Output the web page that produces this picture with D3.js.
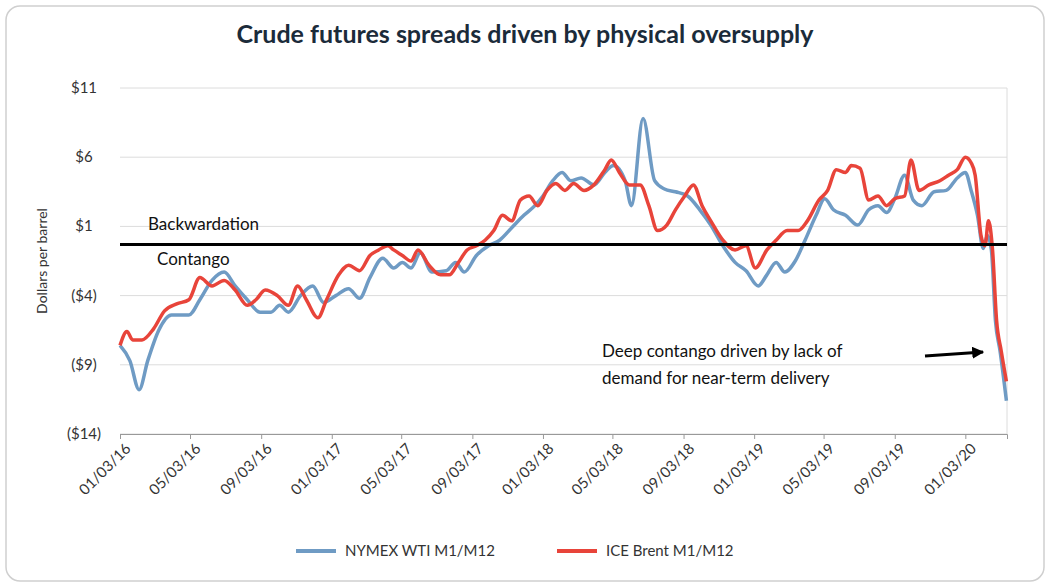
<!DOCTYPE html><html><head><meta charset="utf-8"><script src="https://cdn.jsdelivr.net/npm/d3@7"></script>
<style>body{margin:0;background:#fff;font-family:Lato,"Open Sans",sans-serif}</style></head><body><svg id="c" width="1050" height="587"></svg>
<script>
const title="Crude futures spreads driven by physical oversupply";
const yTicks=[11,6,1,-4,-9,-14];
const xTickDates=["2016-01-03","2016-05-03","2016-09-03","2017-01-03","2017-05-03","2017-09-03","2018-01-03","2018-05-03","2018-09-03","2019-01-03","2019-05-03","2019-09-03","2020-01-03"];
const wtiDates=["2016-01-03","2016-01-20","2016-02-05","2016-02-20","2016-03-10","2016-04-01","2016-05-01","2016-05-20","2016-06-10","2016-07-01","2016-07-20","2016-08-10","2016-09-01","2016-09-20","2016-10-05","2016-10-20","2016-11-10","2016-12-01","2016-12-20","2017-01-10","2017-02-01","2017-02-20","2017-03-10","2017-04-01","2017-04-20","2017-05-05","2017-05-20","2017-06-05","2017-06-25","2017-07-20","2017-08-05","2017-08-20","2017-09-10","2017-10-01","2017-10-20","2017-11-10","2017-12-01","2017-12-20","2018-01-03","2018-01-20","2018-02-05","2018-02-20","2018-03-10","2018-04-01","2018-04-20","2018-05-05","2018-05-25","2018-06-05","2018-06-25","2018-07-15","2018-08-01","2018-08-20","2018-09-10","2018-10-01","2018-10-20","2018-11-10","2018-12-01","2018-12-20","2019-01-10","2019-01-25","2019-02-10","2019-02-25","2019-03-15","2019-04-01","2019-04-20","2019-05-05","2019-05-20","2019-06-10","2019-07-01","2019-07-20","2019-08-05","2019-08-20","2019-09-03","2019-09-20","2019-10-05","2019-10-20","2019-11-10","2019-12-01","2019-12-20","2020-01-03","2020-01-13","2020-01-24","2020-02-03","2020-02-10","2020-02-17","2020-02-24","2020-03-03","2020-03-14"];
const wtiValues=[-7.6,-8.7,-10.8,-8.7,-6.5,-5.4,-5.4,-4.3,-2.9,-2.3,-3.3,-4.3,-5.2,-5.2,-4.7,-5.2,-4,-3.3,-4.5,-4.0,-3.5,-4.2,-2.7,-1.3,-2,-1.6,-2,-0.9,-2.3,-2.2,-1.6,-2.3,-1.1,-0.4,0,0.9,1.8,2.5,3.2,4.3,4.9,4.3,4.5,4.0,4.9,5.4,4.3,2.5,8.8,4.3,3.7,3.5,3.2,2.2,1.1,-0.4,-1.6,-2.2,-3.3,-2.5,-1.6,-2.3,-1.5,0,1.8,3,2.2,1.8,1.1,2.2,2.5,2,3,4.7,2.9,2.5,3.5,3.6,4.5,4.9,3.6,1.8,-0.6,0.35,-0.7,-5.8,-8,-11.6];
const brentDates=["2016-01-03","2016-01-15","2016-01-25","2016-02-10","2016-03-01","2016-03-20","2016-04-10","2016-05-01","2016-05-20","2016-06-10","2016-07-01","2016-07-20","2016-08-10","2016-08-25","2016-09-10","2016-10-01","2016-10-20","2016-11-05","2016-11-20","2016-12-10","2016-12-25","2017-01-15","2017-02-01","2017-02-20","2017-03-10","2017-03-25","2017-04-10","2017-04-20","2017-05-05","2017-05-20","2017-06-01","2017-06-20","2017-07-10","2017-07-25","2017-08-10","2017-08-25","2017-09-10","2017-09-25","2017-10-10","2017-10-25","2017-11-10","2017-11-25","2017-12-10","2017-12-25","2018-01-10","2018-01-25","2018-02-10","2018-02-25","2018-03-15","2018-04-01","2018-04-20","2018-05-01","2018-05-15","2018-06-01","2018-06-20","2018-07-05","2018-07-20","2018-08-05","2018-08-20","2018-09-05","2018-09-20","2018-10-05","2018-10-20","2018-11-10","2018-12-01","2018-12-20","2019-01-05","2019-01-25","2019-02-10","2019-03-01","2019-03-20","2019-04-05","2019-04-25","2019-05-10","2019-05-25","2019-06-10","2019-06-20","2019-07-05","2019-07-20","2019-08-05","2019-08-20","2019-09-03","2019-09-20","2019-10-01","2019-10-15","2019-11-01","2019-11-20","2019-12-05","2019-12-20","2020-01-03","2020-01-13","2020-01-20","2020-01-30","2020-02-06","2020-02-12","2020-02-19","2020-02-26","2020-03-05","2020-03-14"];
const brentValues=[-7.6,-6.6,-7.2,-7.2,-6.4,-5.1,-4.6,-4.3,-2.7,-3.3,-2.9,-3.6,-4.7,-4.3,-3.6,-4,-4.7,-3.3,-4.3,-5.6,-4.3,-2.5,-1.8,-2.2,-1.1,-0.7,-0.4,-0.7,-1.1,-1.5,-0.7,-1.8,-2.5,-2.5,-1.6,-0.7,-0.4,0,0.7,1.8,1.4,2.9,3.2,2.5,3.6,4.1,3.6,4.1,3.6,4.0,5.1,5.8,4.9,4.0,4.0,2.5,0.7,1.1,2.2,3.2,4.0,2.5,1.4,0,-0.7,-0.4,-2,-0.7,0,0.7,0.7,1.4,2.9,3.6,5.1,4.9,5.4,5.2,2.9,3.2,2.5,3.0,3.2,5.8,3.6,4.0,4.3,4.7,5.1,6.0,5.6,4.7,0.35,-0.4,1.4,-0.7,-5.8,-8,-10.2];
const seriesNames=["NYMEX WTI M1/M12","ICE Brent M1/M12"];
const colors=["#6f9bc4","#e8443a"];

const p=d3.timeParse("%Y-%m-%d"), fmt=d3.timeFormat("%m/%d/%y");
const svg=d3.select("#c");
svg.append("rect").attr("x",6).attr("y",6).attr("width",1038).attr("height",575).attr("rx",14).attr("fill","#fff").attr("stroke","#cfcfcf").attr("stroke-width",1.5);
svg.append("text").attr("x",525).attr("y",43).attr("text-anchor","middle").attr("font-size",25).attr("font-weight",700).attr("fill","#1b2b3a").text(title);
const x=d3.scaleTime().domain([p("2016-01-03"),p("2020-03-15")]).range([120,1007]);
const y=d3.scaleLinear().domain([-14,11]).range([434,88]);
const g=svg.append("g");
g.selectAll(".gl").data(yTicks).join("line").attr("x1",120).attr("x2",1007).attr("y1",d=>y(d)).attr("y2",d=>y(d)).attr("stroke","#dcdcdc");
g.append("line").attr("x1",1007).attr("x2",1007).attr("y1",88).attr("y2",434).attr("stroke","#dcdcdc");
const yl=d=>d<0?"($"+(-d)+")":"$"+d;
g.selectAll(".yt").data(yTicks).join("text").attr("x",84).attr("y",d=>y(d)+5).attr("text-anchor","middle").attr("font-size",15).attr("fill","#333").text(yl);
svg.append("text").attr("transform","translate(47,261) rotate(-90)").attr("text-anchor","middle").attr("font-size",14).attr("fill","#333").text("Dollars per barrel");
const xa=svg.append("g").attr("transform","translate(0,434)").call(d3.axisBottom(x).tickValues(xTickDates.map(p)).tickFormat(fmt).tickSize(5));
xa.select(".domain").attr("stroke","#999");xa.selectAll("line").attr("stroke","#999");
xa.selectAll("text").attr("font-size",15).attr("fill","#333").attr("font-family","Lato,sans-serif").attr("text-anchor","end").attr("transform","translate(4,4) rotate(-45)").attr("dy","0.35em").attr("dx","-0.2em");
const ln=d3.line().x(d=>x(d[0])).y(d=>y(d[1])).curve(d3.curveMonotoneX);
const wti=wtiDates.map((d,i)=>[p(d),wtiValues[i]]), br=brentDates.map((d,i)=>[p(d),brentValues[i]]);
svg.append("path").attr("d",ln(wti)).attr("fill","none").attr("stroke",colors[0]).attr("stroke-width",3.5);
svg.append("path").attr("d",ln(br)).attr("fill","none").attr("stroke",colors[1]).attr("stroke-width",3.5);
svg.append("line").attr("x1",120).attr("x2",1007).attr("y1",y(-0.3)).attr("y2",y(-0.3)).attr("stroke","#000").attr("stroke-width",3);
svg.append("text").attr("x",148).attr("y",230).attr("font-size",17).attr("fill","#111").text("Backwardation");
svg.append("text").attr("x",157).attr("y",265).attr("font-size",17).attr("fill","#111").text("Contango");
svg.append("text").attr("x",602).attr("y",357).attr("font-size",17).attr("fill","#111").text("Deep contango driven by lack of");
svg.append("text").attr("x",602).attr("y",384).attr("font-size",17).attr("fill","#111").text("demand for near-term delivery");
svg.append("defs").append("marker").attr("id","ah").attr("viewBox","0 0 10 10").attr("refX",9).attr("refY",5).attr("markerWidth",4).attr("markerHeight",4).attr("orient","auto").append("path").attr("d","M0,0L10,5L0,10z").attr("fill","#000");
svg.append("line").attr("x1",925).attr("y1",356).attr("x2",983).attr("y2",352).attr("stroke","#000").attr("stroke-width",3).attr("marker-end","url(#ah)");
const lg=svg.append("g");
seriesNames.forEach((n,i)=>{const lx=[296,557][i];
lg.append("line").attr("x1",lx).attr("x2",lx+40).attr("y1",551).attr("y2",551).attr("stroke",colors[i]).attr("stroke-width",4);
lg.append("text").attr("x",lx+49).attr("y",556).attr("font-size",15).attr("fill","#333").text(n);});
</script></body></html>
